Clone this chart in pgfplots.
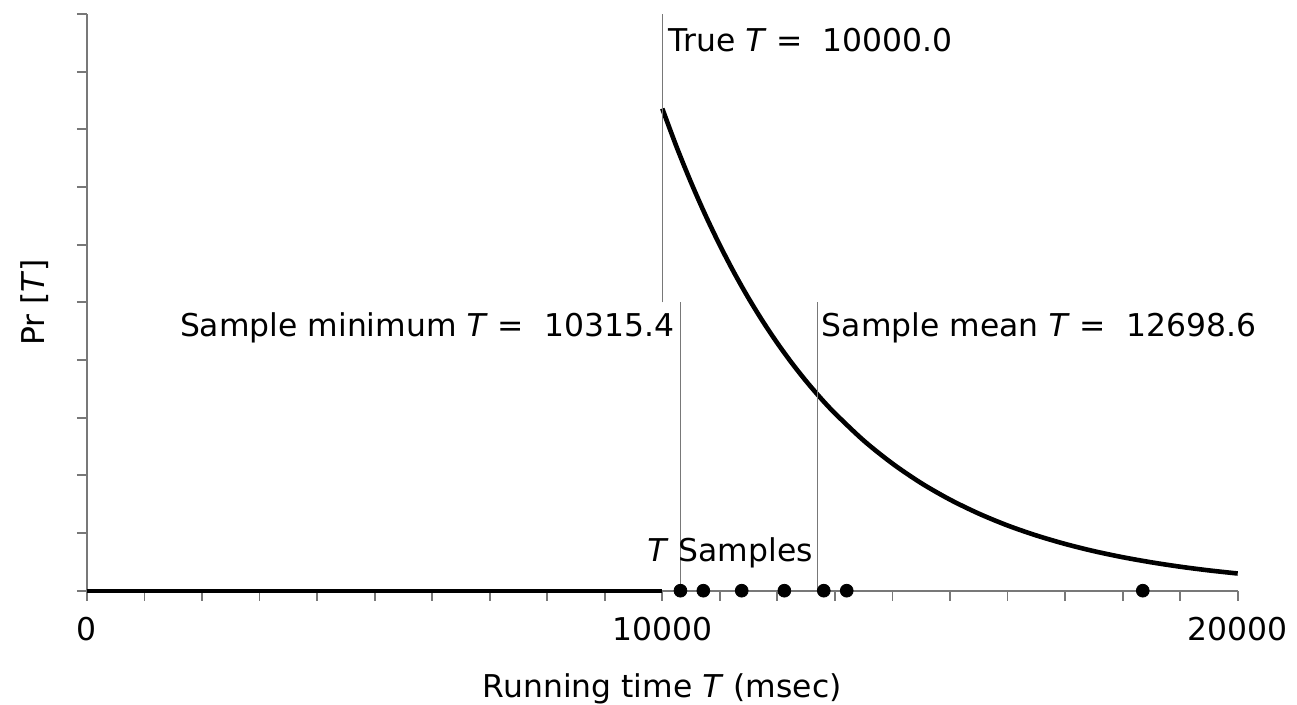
\documentclass[border=0pt]{standalone}
\usepackage{fontspec}
\setmainfont{DejaVu Sans}
\usepackage{pgfplots}
\pgfplotsset{compat=1.18}
\definecolor{axgray}{RGB}{120,120,120}
\begin{document}
\fontsize{15.7pt}{19pt}\selectfont
\begin{tikzpicture}
\begin{axis}[
  name=ax,
  scale only axis,
  width=575.4pt, height=288.35pt,
  xmin=0, xmax=20000, ymin=0, ymax=10,
  axis lines=left,
  axis line style={axgray, line width=0.9pt, -},
  xtick={0,10000,20000},
  minor xtick={1000,2000,3000,4000,5000,6000,7000,8000,9000,11000,12000,13000,14000,15000,16000,17000,18000,19000},
  ytick={0,1,2,3,4,5,6,7,8,9,10},
  yticklabels={},
  tick align=outside,
  major tick length=5pt, minor tick length=5pt,
  every tick/.style={axgray, line width=0.9pt},
  scaled x ticks=false,
  /pgf/number format/assume math mode=true,
  xticklabel style={/pgf/number format/1000 sep={}, anchor=center, yshift=-14pt},
  xlabel={Running time \textit{T} (msec)},
  ylabel={Pr [\textit{T}]},
  x label style={at={(axis description cs:0.5,0)}, anchor=center, yshift=-49pt},
  y label style={at={(axis description cs:0,0.5)}, anchor=center, rotate=0, yshift=26pt},
  clip=false,
]
\addplot[black, line width=2pt] coordinates {(0,0) (10000,0)};
\addplot[black, line width=2.3pt, smooth] coordinates {
(10000,8.36) (10250,7.691) (10500,7.077) (10750,6.511) (11000,5.990)
(11250,5.511) (11500,5.070) (11750,4.665) (12000,4.292) (12250,3.949)
(12500,3.633) (12750,3.342) (13000,3.076) (13500,2.603) (14000,2.204)
(14500,1.865) (15000,1.579) (15500,1.337) (16000,1.131) (16500,0.958)
(17000,0.811) (17500,0.686) (18000,0.581) (18500,0.492) (19000,0.416)
(19500,0.352) (20000,0.298)};
\addplot[axgray, line width=0.8pt] coordinates {(10000,5) (10000,10)};
\addplot[axgray, line width=0.8pt] coordinates {(10315.4,0) (10315.4,5)};
\addplot[axgray, line width=0.8pt] coordinates {(12698.6,0) (12698.6,5)};
\addplot[only marks, mark=*, mark size=3.2pt, black] coordinates {
(10315.4,0) (10713,0) (11380,0) (12121,0) (12806,0) (13205,0) (18350,0)};
\node[anchor=west, inner sep=0pt, xshift=3pt] at (axis cs:10000,9.55) {True \textit{T} = \ 10000.0};
\node[anchor=east, inner sep=0pt, xshift=-3pt] at (axis cs:10315.4,4.56) {Sample minimum \textit{T} = \ 10315.4};
\node[anchor=west, inner sep=0pt, xshift=2pt] at (axis cs:12698.6,4.56) {Sample mean \textit{T} = \ 12698.6};
\node[inner sep=0pt] at (axis cs:11177,0.65) {\textit{T} Samples};
\end{axis}
\pgfresetboundingbox
\path[use as bounding box] ([xshift=-43.45pt,yshift=-57.15pt]ax.south west) rectangle ++(648.5pt,352.5pt);
\end{tikzpicture}
\end{document}
